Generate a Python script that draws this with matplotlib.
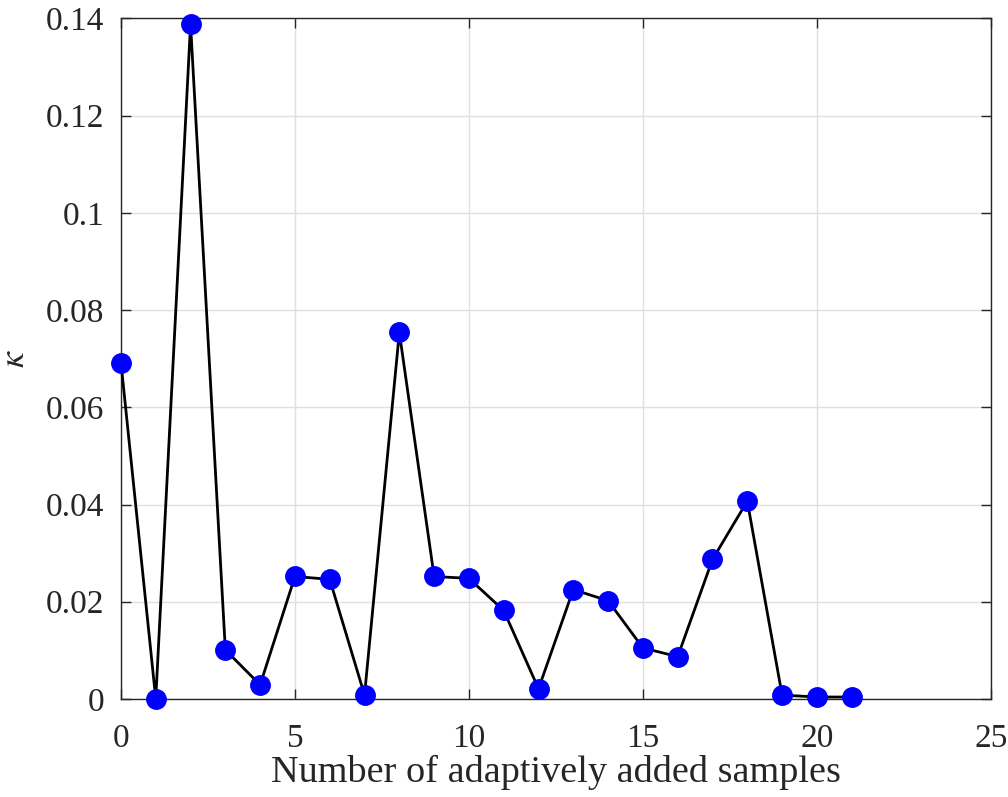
import matplotlib
matplotlib.use("Agg")
import matplotlib.pyplot as plt

x_vals = list(range(22))
kappa = [0.0692, 0.0000, 0.1388, 0.0101, 0.0029, 0.0252, 0.0246, 0.0008,
         0.0754, 0.0252, 0.0248, 0.0182, 0.0021, 0.0225, 0.0202, 0.0105,
         0.0087, 0.0287, 0.0407, 0.0008, 0.0004, 0.0004]
x_ticks = [0, 5, 10, 15, 20, 25]
y_ticks = [0, 0.02, 0.04, 0.06, 0.08, 0.1, 0.12, 0.14]
y_ticklabels = ["0", "0.02", "0.04", "0.06", "0.08", "0.1", "0.12", "0.14"]

plt.rcParams['font.family'] = ['Liberation Serif', 'DejaVu Serif']
plt.rcParams['mathtext.fontset'] = 'stix'
txt = '#262626'

fig = plt.figure(figsize=(10.08, 7.97), dpi=100)
ax = fig.add_axes([0.12, 0.123, 0.863, 0.854])
ax.plot(x_vals, kappa, color='black', lw=2, marker='o', markersize=14,
        markerfacecolor='#0000ff', markeredgecolor='#0000ff', clip_on=False, zorder=3)
ax.set_xlim(0, 25)
ax.set_ylim(0, 0.14)
ax.set_xticks(x_ticks)
ax.set_xticklabels([str(t) for t in x_ticks])
ax.set_yticks(y_ticks)
ax.set_yticklabels(y_ticklabels)
ax.grid(True, color='#e0e0e0', lw=1)
ax.set_axisbelow(True)
ax.tick_params(direction='in', top=True, right=True, labelsize=24, colors=txt,
               length=7, width=1)
ax.tick_params(axis='x', pad=18)
ax.tick_params(axis='y', pad=12)
for s in ax.spines.values():
    s.set_color(txt)
    s.set_linewidth(1)
ax.set_xlabel('Number of adaptively added samples', fontsize=27.5, color=txt, labelpad=0)
ax.set_ylabel(r'$\kappa$', fontsize=26, color=txt, labelpad=10)
fig.savefig('out.png', dpi=100)
